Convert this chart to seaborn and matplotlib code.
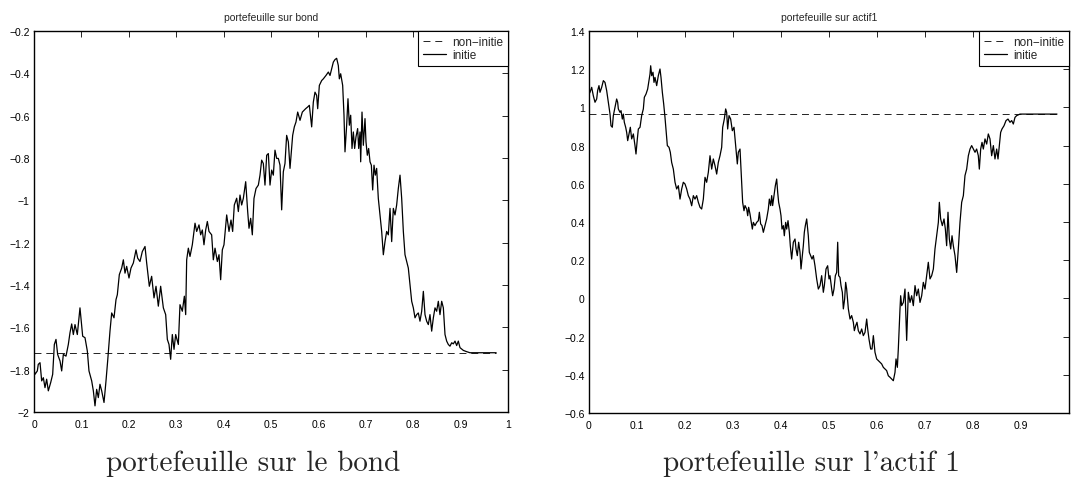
import numpy as np
import matplotlib
matplotlib.use("Agg")
import matplotlib.pyplot as plt
from matplotlib.ticker import FixedLocator, FuncFormatter
import seaborn as sns

# ---- portefeuille sur bond ----
bond_t1 = [0.0, 0.0021, 0.007, 0.009, 0.0127, 0.0162, 0.0197, 0.0232, 0.0267, 0.0302,
           0.0352, 0.0394, 0.0429, 0.0464, 0.0499, 0.0549, 0.0584, 0.0619, 0.0675, 0.0724,
           0.0759, 0.0795, 0.083, 0.0865, 0.0914, 0.097, 0.1027, 0.1076, 0.1125, 0.116,
           0.1217, 0.1252, 0.1287, 0.1322, 0.1357, 0.1392, 0.1428, 0.1477, 0.1519, 0.1554,
           0.1603, 0.1639, 0.1688, 0.173, 0.1758, 0.18, 0.185, 0.1885, 0.192, 0.1955,
           0.2004, 0.2046, 0.2096, 0.2152, 0.2187, 0.2236, 0.2285, 0.2342, 0.2377, 0.2433,
           0.2482, 0.2532, 0.2574, 0.2623, 0.2672, 0.2729, 0.2778, 0.2813, 0.2848, 0.2883,
           0.2918, 0.2954, 0.2989, 0.3045, 0.308, 0.3129, 0.3172, 0.32, 0.3221, 0.3256,
           0.3291, 0.334, 0.3397, 0.3432, 0.3481, 0.3516, 0.3551, 0.3586, 0.3622, 0.3657,
           0.3692, 0.3748, 0.3783, 0.3819, 0.3868, 0.3903, 0.3938, 0.3973, 0.4008, 0.4065,
           0.4114, 0.4156, 0.4191, 0.4226, 0.4276]
bond_v1 = [-1.80, -1.822, -1.806, -1.775, -1.767, -1.853, -1.838, -1.885, -1.845, -1.900,
           -1.861, -1.822, -1.681, -1.657, -1.728, -1.759, -1.806, -1.728, -1.736, -1.681,
           -1.626, -1.584, -1.634, -1.587, -1.634, -1.508, -1.642, -1.649, -1.712, -1.806,
           -1.853, -1.900, -1.971, -1.893, -1.932, -1.869, -1.900, -1.955, -1.853, -1.759,
           -1.618, -1.532, -1.555, -1.469, -1.446, -1.351, -1.32, -1.281, -1.344, -1.312,
           -1.367, -1.32, -1.296, -1.234, -1.273, -1.289, -1.242, -1.218, -1.296, -1.406,
           -1.359, -1.461, -1.406, -1.500, -1.406, -1.508, -1.540, -1.657, -1.681, -1.751,
           -1.634, -1.704, -1.634, -1.681, -1.493, -1.524, -1.453, -1.540, -1.281, -1.226,
           -1.265, -1.21, -1.108, -1.147, -1.116, -1.163, -1.14, -1.21, -1.14, -1.10,
           -1.147, -1.163, -1.281, -1.226, -1.289, -1.257, -1.375, -1.234, -1.21, -1.069,
           -1.147, -1.093, -1.147, -1.022, -0.99]
bond_t2 = [0.4311, 0.4346, 0.4381, 0.4416, 0.4466, 0.4508, 0.4536, 0.4571, 0.4606, 0.4641,
           0.4684, 0.4733, 0.4768, 0.4803, 0.4838, 0.4873, 0.4909, 0.4944, 0.4979, 0.5014,
           0.5049, 0.5084, 0.512, 0.5155, 0.519, 0.5225, 0.526, 0.5295, 0.533, 0.5366,
           0.5401, 0.5436, 0.5457, 0.5492, 0.5527, 0.5563, 0.5612, 0.5661, 0.5696, 0.5731,
           0.5774, 0.5809, 0.5858, 0.5893, 0.5928, 0.5963, 0.5985, 0.602, 0.6069, 0.6104,
           0.616, 0.621, 0.6245, 0.628, 0.6315, 0.635, 0.6385]
bond_v2 = [-1.053, -0.975, -1.022, -0.991, -0.912, -1.053, -1.132, -1.085, -1.163, -0.991,
           -0.944, -0.928, -0.881, -0.81, -0.826, -0.928, -0.787, -0.779, -0.928, -0.857,
           -0.881, -0.763, -0.802, -0.802, -0.834, -1.045, -0.865, -0.826, -0.693, -0.724,
           -0.849, -0.755, -0.693, -0.653, -0.63, -0.583, -0.622, -0.583, -0.575, -0.567,
           -0.559, -0.551, -0.653, -0.536, -0.489, -0.504, -0.567, -0.457, -0.434, -0.426,
           -0.41, -0.394, -0.41, -0.379, -0.347, -0.335, -0.329]
bond_t3 = [0.642, 0.6442, 0.647, 0.6512, 0.654, 0.6561, 0.6596, 0.6624, 0.6653, 0.6681,
           0.6709, 0.6737, 0.6765, 0.6793, 0.6828, 0.685, 0.6878, 0.6892, 0.692, 0.6948,
           0.6983, 0.7004, 0.7032, 0.706, 0.7089, 0.7117, 0.7145, 0.7173, 0.7201, 0.7229,
           0.7264, 0.73, 0.7335, 0.737, 0.7405, 0.744, 0.7475, 0.7511, 0.7546, 0.7581,
           0.7616, 0.7651, 0.7686, 0.7722, 0.7757, 0.7792, 0.7827, 0.7862, 0.7897, 0.7932,
           0.7968, 0.8003, 0.8038, 0.8073, 0.8108, 0.8143, 0.8179, 0.8214, 0.8249, 0.8284,
           0.8319, 0.8354, 0.839, 0.8425, 0.846, 0.8495, 0.853, 0.8565, 0.8601, 0.8636,
           0.8671, 0.8706, 0.8741, 0.8776, 0.8812, 0.8847, 0.8882, 0.8917, 0.8952, 0.8987,
           0.9058, 0.9128, 0.9198, 0.9269, 0.941, 0.975]
bond_v3 = [-0.363, -0.426, -0.402, -0.457, -0.598, -0.771, -0.645, -0.52, -0.645, -0.598,
           -0.755, -0.677, -0.755, -0.70, -0.661, -0.755, -0.677, -0.818, -0.583, -0.74,
           -0.614, -0.724, -0.787, -0.755, -0.818, -0.834, -0.951, -0.834, -0.881, -0.849,
           -0.991, -1.069, -1.147, -1.257, -1.195, -1.147, -1.163, -1.038, -1.195, -1.038,
           -1.069, -1.022, -0.944, -0.881, -0.991, -1.147, -1.257, -1.289, -1.32, -1.398,
           -1.477, -1.508, -1.555, -1.54, -1.532, -1.571, -1.524, -1.43, -1.54, -1.571,
           -1.587, -1.54, -1.618, -1.555, -1.508, -1.524, -1.477, -1.54, -1.477, -1.508,
           -1.634, -1.665, -1.681, -1.689, -1.673, -1.678, -1.665, -1.686, -1.665, -1.696,
           -1.709, -1.715, -1.72, -1.72, -1.72, -1.72]

# ---- portefeuille sur actif1 ----
actif_t1 = [0.0, 0.0021, 0.0056, 0.009, 0.0125, 0.016, 0.018, 0.0208, 0.0229, 0.0264,
            0.0299, 0.0333, 0.0368, 0.0403, 0.0438, 0.0458, 0.0486, 0.0507, 0.0542, 0.0576,
            0.0597, 0.0611, 0.0646, 0.0667, 0.0694, 0.0715, 0.0736, 0.0764, 0.0785, 0.0806,
            0.0833, 0.0861, 0.0889, 0.0924, 0.0958, 0.0979, 0.1007, 0.1028, 0.1063, 0.1097,
            0.1132, 0.1153, 0.1188, 0.1222, 0.125, 0.1271, 0.1285, 0.1306, 0.1333, 0.1354,
            0.1375, 0.141, 0.1444, 0.1479, 0.15, 0.1528, 0.1556, 0.1583, 0.1604, 0.1632,
            0.1667, 0.1694, 0.1722, 0.1757, 0.1792, 0.1826, 0.1861, 0.1896, 0.1931, 0.1965,
            0.2, 0.2035, 0.2069, 0.2104, 0.2139, 0.2174, 0.2208, 0.2243, 0.2278, 0.2313,
            0.2347, 0.2382, 0.2417, 0.2451, 0.2486, 0.2521, 0.2556, 0.259, 0.2625, 0.266,
            0.2694, 0.2729, 0.2764, 0.2785, 0.2819, 0.2847, 0.2868, 0.2889, 0.2917, 0.2951,
            0.2986, 0.3021, 0.3056, 0.309, 0.3111, 0.3146, 0.3181]
actif_v1 = [1.07, 1.079, 1.105, 1.061, 1.027, 1.044, 1.088, 1.114, 1.079, 1.105,
            1.14, 1.131, 1.088, 1.027, 0.965, 0.904, 0.896, 0.957, 1.00, 1.044,
            1.027, 0.992, 0.974, 0.983, 0.939, 0.965, 0.922, 0.896, 0.869, 0.826,
            0.861, 0.896, 0.835, 0.861, 0.80, 0.756, 0.835, 0.887, 0.896, 0.957,
            0.992, 1.053, 1.07, 1.096, 1.14, 1.175, 1.218, 1.166, 1.184, 1.131,
            1.157, 1.114, 1.166, 1.201, 1.157, 1.079, 1.018, 0.948, 0.887, 0.80,
            0.791, 0.765, 0.712, 0.677, 0.608, 0.573, 0.59, 0.52, 0.573, 0.608,
            0.599, 0.573, 0.538, 0.52, 0.485, 0.538, 0.52, 0.538, 0.503, 0.477,
            0.468, 0.52, 0.634, 0.608, 0.66, 0.747, 0.677, 0.73, 0.695, 0.651,
            0.712, 0.747, 0.791, 0.896, 0.939, 0.992, 0.974, 0.887, 0.957, 0.939,
            0.878, 0.896, 0.80, 0.704, 0.765, 0.782, 0.608]
actif_t2 = [0.3201, 0.3229, 0.325, 0.3285, 0.3306, 0.3326, 0.3354, 0.3375, 0.3403, 0.3424,
            0.3458, 0.3493, 0.3528, 0.3549, 0.3576, 0.3604, 0.3632, 0.3667, 0.3701, 0.3736,
            0.3757, 0.3785, 0.3806, 0.3826, 0.3854, 0.3882, 0.391, 0.3931, 0.3951, 0.3979,
            0.4, 0.4021, 0.4049, 0.4069, 0.4097, 0.4118, 0.4146, 0.4174, 0.4194, 0.4222,
            0.4257, 0.4292, 0.4313, 0.434, 0.4368, 0.4396, 0.4417, 0.4444, 0.4465, 0.4486,
            0.4507, 0.4535, 0.4569, 0.459, 0.4618, 0.4646, 0.4674, 0.4708, 0.4743, 0.4778,
            0.4813, 0.4847, 0.4882, 0.4903, 0.4938, 0.4972, 0.5, 0.5021, 0.5056, 0.5076,
            0.5104, 0.5132, 0.516, 0.5181, 0.5201, 0.5229, 0.525, 0.5278, 0.5299, 0.5326,
            0.5347, 0.5368, 0.5403, 0.5438, 0.5472, 0.5507, 0.5528, 0.5556, 0.5583, 0.5611,
            0.5646, 0.5681, 0.5715, 0.575, 0.5785, 0.5806, 0.5833, 0.5868, 0.5896, 0.5924,
            0.5958, 0.5993, 0.6028, 0.6063, 0.6097, 0.6132, 0.6167, 0.6201, 0.6236, 0.6271,
            0.6306, 0.634, 0.6375, 0.6396, 0.6424, 0.6444, 0.6479]
actif_v2 = [0.503, 0.459, 0.486, 0.468, 0.433, 0.477, 0.442, 0.407, 0.363, 0.398,
            0.381, 0.398, 0.407, 0.451, 0.39, 0.381, 0.346, 0.381, 0.416, 0.468,
            0.52, 0.486, 0.538, 0.486, 0.538, 0.59, 0.625, 0.555, 0.503, 0.468,
            0.433, 0.363, 0.381, 0.328, 0.398, 0.363, 0.407, 0.346, 0.276, 0.206,
            0.294, 0.311, 0.259, 0.224, 0.294, 0.241, 0.154, 0.224, 0.276, 0.346,
            0.381, 0.416, 0.328, 0.241, 0.224, 0.206, 0.224, 0.171, 0.102, 0.049,
            0.067, 0.119, 0.032, 0.067, 0.154, 0.171, 0.102, 0.119, 0.049, 0.014,
            0.049, 0.119, 0.136, 0.294, 0.119, 0.11, 0.067, 0.032, -0.055, -0.003,
            0.084, 0.049, -0.055, -0.108, -0.09, -0.125, -0.169, -0.143, -0.125, -0.169,
            -0.186, -0.16, -0.195, -0.178, -0.108, -0.16, -0.213, -0.265, -0.265, -0.195,
            -0.282, -0.317, -0.326, -0.335, -0.343, -0.361, -0.37, -0.378, -0.405, -0.413,
            -0.422, -0.431, -0.387, -0.317, -0.361, -0.265, -0.055]
actif_t3 = [0.6493, 0.6514, 0.6549, 0.6583, 0.6618, 0.6653, 0.6688, 0.6722, 0.6757, 0.6792,
            0.6826, 0.6861, 0.6896, 0.6931, 0.6965, 0.7, 0.7035, 0.7069, 0.7104, 0.7139,
            0.7174, 0.7208, 0.7243, 0.7278, 0.7299, 0.7326, 0.7361, 0.7396, 0.7424, 0.7451,
            0.7479, 0.7507, 0.7535, 0.7563, 0.759, 0.7625, 0.766, 0.7694, 0.7729, 0.7764,
            0.7799, 0.7833, 0.7868, 0.7903, 0.7938, 0.7972, 0.8007, 0.8042, 0.8076, 0.8111,
            0.8132, 0.816, 0.8188, 0.8215, 0.825, 0.8285, 0.8319, 0.8354, 0.8389, 0.8424,
            0.8458, 0.8493, 0.8521, 0.8549, 0.8576, 0.8604, 0.8646, 0.8688, 0.8729, 0.8771,
            0.8806, 0.884, 0.8875, 0.891, 0.8979, 0.9049, 0.975]
actif_v3 = [0.014, -0.038, -0.021, 0.049, -0.22, 0.032, -0.021, 0.014, -0.038, 0.067,
            0.014, 0.049, -0.021, 0.014, 0.084, 0.049, 0.119, 0.189, 0.102, 0.119,
            0.154, 0.259, 0.328, 0.398, 0.503, 0.416, 0.381, 0.416, 0.363, 0.276,
            0.451, 0.311, 0.259, 0.328, 0.276, 0.224, 0.136, 0.259, 0.398, 0.503,
            0.538, 0.643, 0.677, 0.747, 0.782, 0.80, 0.782, 0.765, 0.782, 0.747,
            0.677, 0.782, 0.817, 0.782, 0.835, 0.808, 0.861, 0.835, 0.747, 0.80,
            0.73, 0.782, 0.73, 0.80, 0.869, 0.887, 0.904, 0.931, 0.939, 0.922,
            0.931, 0.913, 0.948, 0.957, 0.965, 0.965, 0.965]

# strategie non-initie : constante
noninit_t = [0.0, 0.975]
bond_noninit = [-1.72, -1.72]
actif_noninit = [0.965, 0.965]

legend_labels = ["non\u2212initie", "initie"]
titles = ["portefeuille sur bond", "portefeuille sur actif1"]
captions = ["portefeuille sur le bond", "portefeuille sur l'actif 1"]
x_ticks = [0, 0.1, 0.2, 0.3, 0.4, 0.5, 0.6, 0.7, 0.8, 0.9, 1]
bond_yticks = [-2, -1.8, -1.6, -1.4, -1.2, -1, -0.8, -0.6, -0.4, -0.2]
actif_yticks = [-0.6, -0.4, -0.2, 0, 0.2, 0.4, 0.6, 0.8, 1, 1.2, 1.4]

bond_t = bond_t1 + bond_t2 + bond_t3
bond_v = bond_v1 + bond_v2 + bond_v3
actif_t = actif_t1 + actif_t2 + actif_t3
actif_v = actif_v1 + actif_v2 + actif_v3
assert len(bond_t) == len(bond_v), (len(bond_t), len(bond_v))
assert len(actif_t) == len(actif_v), (len(actif_t), len(actif_v))

sns.set_style("white")
plt.rcParams["font.family"] = ["Liberation Sans", "DejaVu Sans"]
plt.rcParams["lines.scale_dashes"] = False


def matlab_fmt(v, pos):
    return f"{v:g}".replace("-", "\u2212")


def panel(ax, t, v, level, ylim, yticks, title, show_last_x=True):
    sns.lineplot(x=noninit_t, y=level, ax=ax, color="black", linewidth=0.6,
                 linestyle=(0, (5, 3.5)), label=legend_labels[0],
                 estimator=None, sort=False)
    sns.lineplot(x=t, y=v, ax=ax, color="black", linewidth=0.9,
                 label=legend_labels[1], estimator=None, sort=False)
    ax.set_xlim(0, 1)
    ax.set_ylim(*ylim)
    ax.xaxis.set_major_locator(FixedLocator(x_ticks))
    ax.yaxis.set_major_locator(FixedLocator(yticks))
    if show_last_x:
        ax.xaxis.set_major_formatter(FuncFormatter(matlab_fmt))
    else:
        ax.xaxis.set_major_formatter(
            FuncFormatter(lambda x, p: "" if x >= 1 else matlab_fmt(x, p)))
    ax.yaxis.set_major_formatter(FuncFormatter(matlab_fmt))
    ax.tick_params(direction="in", length=4, width=0.6, top=True, right=True,
                   labelsize=7.5, colors="black")
    ax.tick_params(axis="x", pad=5)
    ax.tick_params(axis="y", pad=3)
    for s in ax.spines.values():
        s.set_visible(True)
        s.set_color("black")
        s.set_linewidth(1.0)
    ax.set_xlabel("")
    ax.set_ylabel("")
    ax.set_title(title, fontsize=7.5, pad=8)
    leg = ax.legend(loc="upper right", borderaxespad=0, frameon=True, fancybox=False,
                    edgecolor="black", framealpha=1, fontsize=8.5, handlelength=2.0,
                    handletextpad=0.5, labelspacing=0.15, borderpad=0.4)
    leg.get_frame().set_linewidth(0.8)


fig = plt.figure(figsize=(10.74, 4.85), dpi=100)
ax1 = fig.add_axes([34 / 1074, 72 / 485, 474 / 1074, 381 / 485])
ax2 = fig.add_axes([589 / 1074, 71 / 485, 480 / 1074, 382 / 485])

panel(ax1, bond_t, bond_v, bond_noninit, (-2, -0.2), bond_yticks, titles[0])
panel(ax2, actif_t, actif_v, actif_noninit, (-0.6, 1.4), actif_yticks, titles[1],
      show_last_x=False)

fig.text(253.5 / 1074, 14 / 485, captions[0], family="cmr10", fontsize=21,
         ha="center", va="baseline")
fig.text(811.7 / 1074, 14 / 485, captions[1], family="cmr10", fontsize=21,
         ha="center", va="baseline")

fig.savefig("out.png", dpi=100, facecolor="white")
